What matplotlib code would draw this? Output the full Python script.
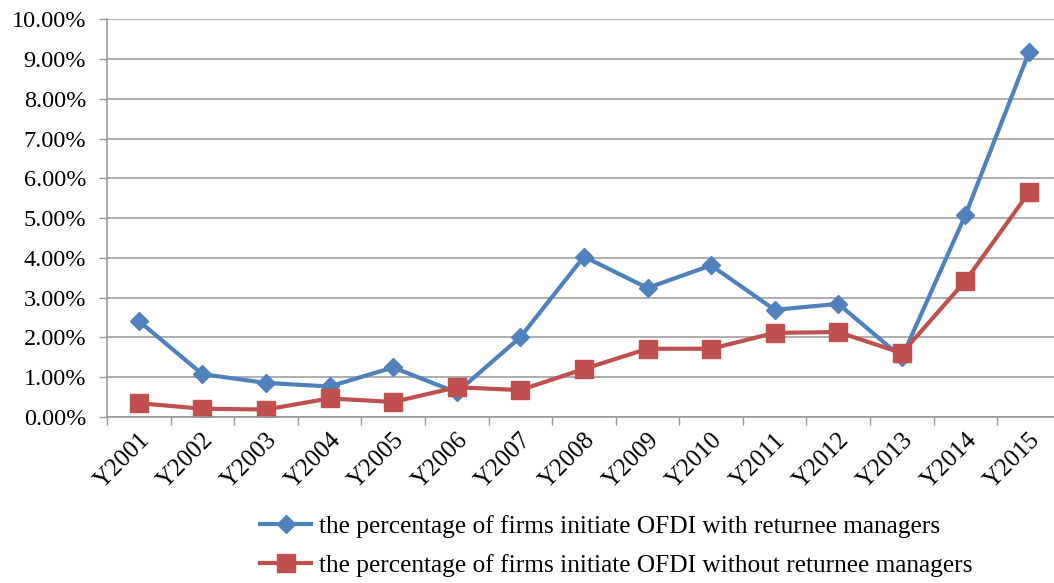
import numpy as np
import matplotlib
matplotlib.use("Agg")
import matplotlib.pyplot as plt
from matplotlib.ticker import FuncFormatter

years = ['Y2001', 'Y2002', 'Y2003', 'Y2004', 'Y2005', 'Y2006', 'Y2007', 'Y2008',
         'Y2009', 'Y2010', 'Y2011', 'Y2012', 'Y2013', 'Y2014', 'Y2015']
with_returnee = [2.41, 1.07, 0.85, 0.76, 1.24, 0.61, 2.00, 4.03,
                 3.24, 3.81, 2.69, 2.84, 1.49, 5.08, 9.18]
without_returnee = [0.34, 0.20, 0.18, 0.46, 0.37, 0.74, 0.67, 1.20,
                    1.71, 1.71, 2.11, 2.13, 1.60, 3.42, 5.65]

blue = '#4F81BD'
red = '#C0504D'

plt.rcParams['font.family'] = 'Liberation Serif'
plt.rcParams['font.size'] = 17.5

fig = plt.figure(figsize=(10.54, 5.83), dpi=100)
ax = fig.add_axes([0.1015, 0.2853, 0.905, 0.6813])

ind = np.arange(len(years))
ax.plot(ind, with_returnee, color=blue, lw=3, marker='D', ms=9.5,
        label='the percentage of firms initiate OFDI with returnee managers')
ax.plot(ind, without_returnee, color=red, lw=3, marker='s', ms=12.5,
        label='the percentage of firms initiate OFDI without returnee managers')

ax.set_xlim(-0.5, len(years) - 0.5)
ax.set_ylim(0, 10)
ax.set_yticks(np.arange(0, 10.01, 1))
ax.yaxis.set_major_formatter(FuncFormatter(lambda v, p: '%.2f%%' % v))
ax.set_xticks(ind)
ax.set_xticklabels(years, rotation=45, ha='right', va='top', rotation_mode='anchor',
                   fontsize=18)
ax.set_xticks(np.arange(-0.5, len(years), 1), minor=True)
ax.tick_params(axis='x', which='major', length=0, pad=9)
ax.tick_params(axis='x', which='minor', length=6, color='#9a9a9a', width=1)
ax.tick_params(axis='y', length=6, color='#9a9a9a', width=1, pad=9)

ax.grid(axis='y', color='#a0a0a0', lw=1.2)
ax.set_axisbelow(True)
for s in ['top', 'right']:
    ax.spines[s].set_visible(False)
for s in ['left', 'bottom']:
    ax.spines[s].set_color('#9a9a9a')
    ax.spines[s].set_linewidth(1.2)

fig.legend(loc='upper left', bbox_to_anchor=(0.247, 0.117), frameon=False,
           fontsize=18.3, handlelength=2.0, handletextpad=0.3, labelspacing=0.65,
           borderaxespad=0, borderpad=0)

fig.savefig('out.png', dpi=100)
